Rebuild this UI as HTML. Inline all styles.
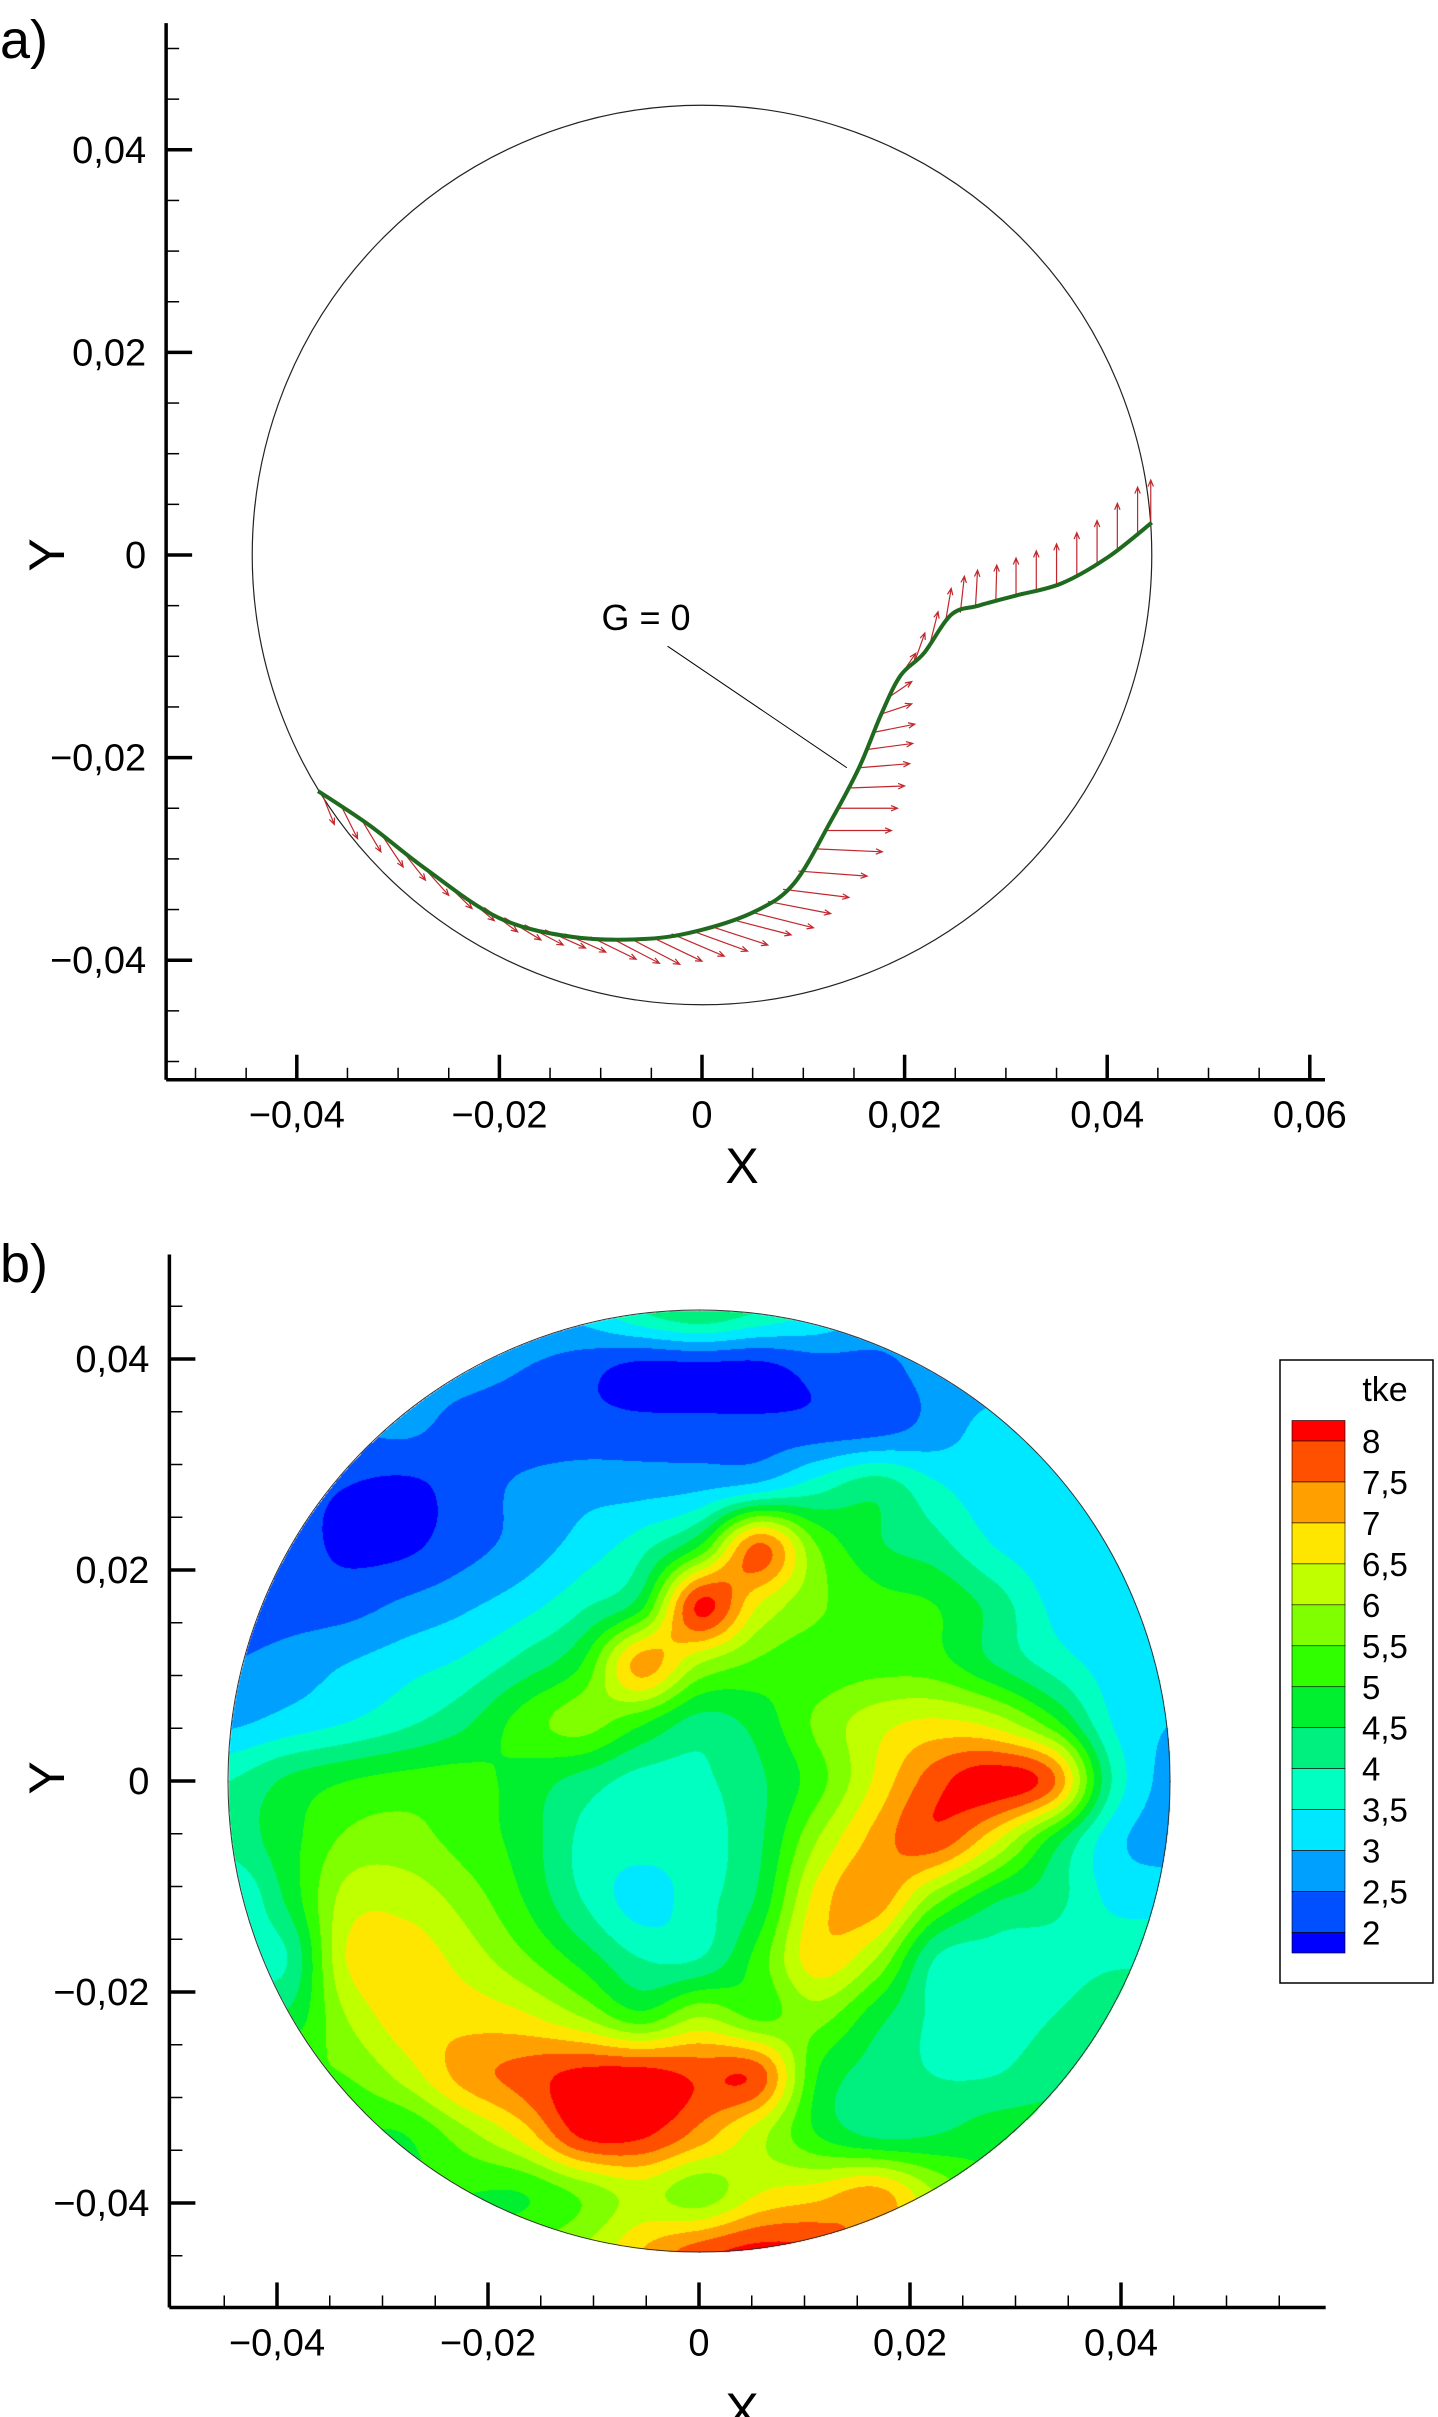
<!DOCTYPE html>
<html><head><meta charset="utf-8">
<style>
html,body{margin:0;padding:0;background:#fff;}
#wrap{position:relative;width:1438px;height:2417px;overflow:hidden;font-family:"Liberation Sans",Arial,sans-serif;}
svg{position:absolute;left:0;top:0;}
canvas{position:absolute;left:227px;top:1309px;}
</style></head>
<body>
<div id="wrap">
<canvas id="field" width="944" height="944"></canvas>
<svg id="svg" width="1438" height="2417" viewBox="0 0 1438 2417"></svg>
</div>
<script>
// ---------- Panel a data ----------
const curveX = [-0.0379,-0.0328,-0.0274,-0.0201,-0.0128,-0.0055,0.0000,0.0054,0.0091,0.0127,0.0155,0.0177,0.0196,0.0219,0.0246,0.0273,0.0310,0.0355,0.0401,0.0444];
const curveY = [-0.0233,-0.0267,-0.0309,-0.0358,-0.0377,-0.0379,-0.0370,-0.0351,-0.0324,-0.0263,-0.0210,-0.0157,-0.0119,-0.0097,-0.0059,-0.0050,-0.0040,-0.0028,-0.0002,0.0032];
const arrowX = [-0.0375,-0.0355,-0.0335,-0.0315,-0.0295,-0.0275,-0.0255,-0.0235,-0.0215,-0.0195,-0.0175,-0.0155,-0.0135,-0.0110,-0.0090,-0.0070,-0.0050,-0.0030,-0.0010,0.0010,0.0030,0.0050,0.0065,0.0080,0.0095,0.0110,0.0122,0.0133,0.0145,0.0155,0.0163,0.0170,0.0177,0.0185,0.0196,0.0210,0.0225,0.0240,0.0255,0.0270,0.0290,0.0310,0.0330,0.0350,0.0370,0.0390,0.0410,0.0430,0.0443];
const arrowY = [-0.0236,-0.0250,-0.0263,-0.0278,-0.0293,-0.0308,-0.0322,-0.0336,-0.0348,-0.0358,-0.0365,-0.0370,-0.0374,-0.0377,-0.0378,-0.0379,-0.0377,-0.0374,-0.0371,-0.0367,-0.0360,-0.0353,-0.0342,-0.0330,-0.0312,-0.0290,-0.0272,-0.0250,-0.0230,-0.0210,-0.0192,-0.0175,-0.0157,-0.0140,-0.0119,-0.0105,-0.0088,-0.0068,-0.0057,-0.0051,-0.0046,-0.0040,-0.0034,-0.0029,-0.0020,-0.0010,0.0005,0.0020,0.0032];
const arrowU = [0.0012,0.0015,0.0018,0.0020,0.0022,0.0025,0.0028,0.0030,0.0033,0.0036,0.0038,0.0040,0.0040,0.0045,0.0048,0.0048,0.0050,0.0052,0.0055,0.0055,0.0058,0.0060,0.0062,0.0065,0.0068,0.0068,0.0065,0.0060,0.0055,0.0050,0.0045,0.0040,0.0030,0.0022,0.0015,0.0010,0.0008,0.0006,0.0004,0.0002,0.0001,0,0,0,0,0,0,0,0];
const arrowV = [-0.0030,-0.0030,-0.0030,-0.0030,-0.0028,-0.0028,-0.0027,-0.0025,-0.0024,-0.0022,-0.0020,-0.0018,-0.0018,-0.0022,-0.0025,-0.0025,-0.0024,-0.0022,-0.0020,-0.0018,-0.0015,-0.0015,-0.0012,-0.0008,-0.0005,-0.0003,0,0,0.0002,0.0004,0.0006,0.0008,0.0010,0.0015,0.0022,0.0028,0.0032,0.0035,0.0036,0.0036,0.0036,0.0037,0.0038,0.0040,0.0042,0.0044,0.0046,0.0047,0.0042];
const aTickMajorX = [-0.04,-0.02,0,0.02,0.04,0.06];
const aTickLabelsX = ["\u22120,04","\u22120,02","0","0,02","0,04","0,06"];
const aTickMajorY = [0.04,0.02,0,-0.02,-0.04];
const aTickLabelsY = ["0,04","0,02","0","\u22120,02","\u22120,04"];
const aCircleR = [0.0444];

// ---------- Panel b data ----------
const bTickMajorX = [-0.04,-0.02,0,0.02,0.04];
const bTickLabelsX = ["\u22120,04","\u22120,02","0","0,02","0,04"];
const bTickMajorY = [0.04,0.02,0,-0.02,-0.04];
const bTickLabelsY = ["0,04","0,02","0","\u22120,02","\u22120,04"];
const legendLevels = ["8","7,5","7","6,5","6","5,5","5","4,5","4","3,5","3","2,5","2"];
const bandColors = ["#0000ff","#0050ff","#00a0ff","#00e8ff","#00ffc0","#00f080","#00f030","#30ff00","#80ff00","#c0ff00","#ffe600","#ffa000","#ff5000","#ff0000"];
// tke grid, 17x17 over the circle bounding box, row 0 = top
const tkeGrid = [
[3,3,3,3,3,3,3.2,4.0,4.5,4.0,3.5,3,3,3,3,3,3],
[2.7,2.7,2.7,2.7,2.7,2.5,2.2,1.8,1.8,1.8,2.2,2.3,2.7,2.7,2.7,2.7,2.7],
[2.5,2.5,2.5,2.6,2.3,2.2,2.2,2.2,2.2,2.2,2.2,2.3,2.7,3.2,3.2,3.2,3.2],
[2.2,2.2,2.0,1.9,2.2,2.6,2.8,2.8,2.9,3.2,3.8,4.3,3.6,3.2,3.1,3.0,3.0],
[2.2,2.2,1.9,1.9,2.3,2.7,3.2,3.8,5.0,7.6,5.5,4.6,4.2,3.5,3.2,3.2,3.2],
[2.3,2.3,2.3,2.6,2.9,3.3,3.9,4.8,8.1,6.5,5.6,5.2,5.0,4.3,3.4,3.2,3.5],
[2.5,2.7,3.0,3.3,3.6,4.2,5.0,7.2,6.0,5.4,5.2,5.3,5.2,4.5,3.8,3.3,3.3],
[2.9,3.2,3.5,3.9,4.4,5.2,5.7,5.1,4.3,4.7,5.6,6.3,6.6,6.3,5.2,3.5,3.0],
[4.0,4.6,5.0,5.2,5.2,4.8,4.3,3.8,3.9,4.4,5.3,6.6,7.8,8.3,7.6,4.0,2.8],
[4.2,4.8,5.6,5.7,5.3,4.8,3.9,3.7,3.8,4.4,6.0,7.2,7.8,6.6,4.8,3.2,2.8],
[3.4,4.6,6.2,6.3,5.8,5.0,4.0,3.3,3.8,4.6,6.7,7.3,5.7,4.6,4.2,3.4,3.3],
[4.0,4.0,6.5,6.8,6.3,5.6,4.8,4.0,4.0,5.2,6.8,6.0,4.0,3.8,3.8,3.9,3.9],
[4.6,4.6,6.0,6.8,6.8,6.6,6.0,5.2,6.0,5.4,5.7,4.7,3.9,3.8,4.0,4.3,4.3],
[5.5,5.5,5.5,6.2,7.2,7.7,8.2,8.3,7.9,7.8,5.0,4.3,4.0,4.0,4.3,4.3,4.3],
[5,5,5,5.0,5.8,6.7,8.1,8.1,7.3,6.2,5.0,4.4,4.5,4.8,4.8,4.8,4.8],
[5,5,5,5,5,5.0,5.6,6.2,5.7,6.5,6.8,7.2,6.0,5,5,5,5],
[5,5,5,5,5,5.5,6,7,7.8,8.2,8,7,6,5,5,5,5]
];

const NS = "http://www.w3.org/2000/svg";
const svg = document.getElementById('svg');
function mk(tag, attrs, parent){ const e=document.createElementNS(NS,tag); for(const k in attrs) e.setAttribute(k,attrs[k]); (parent||svg).appendChild(e); return e; }

const sxA = x => 702 + x*10130, syA = y => 555 - y*10130;
const sxB = x => 699 + x*10550, syB = y => 1781 - y*10550;

function axes(g, sx, sy, xmin, xmax, ymin, ymax, majX, labX, majY, labY, minorX, minorY){
  const x0 = sx(xmin), y0 = sy(ymin);
  let e = mk('line',{x1:x0,y1:y0,x2:sx(xmax),y2:y0,stroke:'#000','stroke-width':3.5},g);
   
  e = mk('line',{x1:x0,y1:y0,x2:x0,y2:sy(ymax),stroke:'#000','stroke-width':3.5},g);
   
  minorX.forEach(v=>{ const t=mk('line',{x1:sx(v),y1:y0,x2:sx(v),y2:y0-12,stroke:'#000','stroke-width':1.5},g);
      });
  minorY.forEach(v=>{ const t=mk('line',{x1:x0,y1:sy(v),x2:x0+13,y2:sy(v),stroke:'#000','stroke-width':1.5},g);
      });
  majX.forEach((v,i)=>{ const t=mk('line',{x1:sx(v),y1:y0,x2:sx(v),y2:y0-25,stroke:'#000','stroke-width':3.5},g);
     
    const l=mk('text',{x:sx(v),y:y0+48,'text-anchor':'middle','font-size':38},g); l.textContent=labX[i];
      });
  majY.forEach((v,i)=>{ const t=mk('line',{x1:x0,y1:sy(v),x2:x0+26,y2:sy(v),stroke:'#000','stroke-width':3.5},g);
     
    const l=mk('text',{x:x0-20,y:sy(v)+13,'text-anchor':'end','font-size':38},g); l.textContent=labY[i];
      });
}
function range(a,b,s){ const r=[]; for(let v=a; v<=b+1e-9; v+=s){ const q=Math.round(v*1000)/1000; if(Math.abs(Math.round(q/0.02)*0.02-q)>1e-6) r.push(q);} return r; }

// ---------- Panel a ----------
const gA = mk('g',{});  
axes(gA, sxA, syA, -0.0529, 0.0615, -0.0518, 0.0525, aTickMajorX, aTickLabelsX, aTickMajorY, aTickLabelsY,
     range(-0.05,0.06,0.005), range(-0.05,0.05,0.005));
let c = mk('circle',{cx:sxA(0),cy:syA(0),r:aCircleR[0]*10130,fill:'none',stroke:'#222','stroke-width':1.2},gA);
 
const gArr = mk('g',{stroke:'#c0282d','stroke-width':1.2,fill:'none'},gA);
 
for(let i=0;i<arrowX.length;i++){
  const x1=sxA(arrowX[i]), y1=syA(arrowY[i]), x2=sxA(arrowX[i]+arrowU[i]), y2=syA(arrowY[i]+arrowV[i]);
  const ang=Math.atan2(y2-y1,x2-x1), h=7;
  const p=mk('path',{d:`M${x1},${y1}L${x2},${y2}M${x2-h*Math.cos(ang-0.4)},${y2-h*Math.sin(ang-0.4)}L${x2},${y2}L${x2-h*Math.cos(ang+0.4)},${y2-h*Math.sin(ang+0.4)}`},gArr);
   
}
// smooth curve (Catmull-Rom through the data points)
let d='M'+sxA(curveX[0])+','+syA(curveY[0]);
for(let i=0;i<curveX.length-1;i++){
  const p0=[sxA(curveX[Math.max(0,i-1)]),syA(curveY[Math.max(0,i-1)])];
  const p1=[sxA(curveX[i]),syA(curveY[i])];
  const p2=[sxA(curveX[i+1]),syA(curveY[i+1])];
  const p3=[sxA(curveX[Math.min(curveX.length-1,i+2)]),syA(curveY[Math.min(curveX.length-1,i+2)])];
  d+=`C${p1[0]+(p2[0]-p0[0])/6},${p1[1]+(p2[1]-p0[1])/6} ${p2[0]-(p3[0]-p1[0])/6},${p2[1]-(p3[1]-p1[1])/6} ${p2[0]},${p2[1]}`;
}
let cv = mk('path',{d:d,fill:'none',stroke:'#1f6a1f','stroke-width':4,'stroke-linejoin':'round'},gA);
 
let ld = mk('line',{x1:sxA(-0.0034),y1:syA(-0.0090),x2:sxA(0.0143),y2:syA(-0.0210),stroke:'#000','stroke-width':1},gA);
 
let gl = mk('text',{x:646,y:630,'text-anchor':'middle','font-size':36},gA); gl.textContent='G = 0';
 
let ta = mk('text',{x:0,y:58,'font-size':54},gA); ta.textContent='a)';
 
let xa = mk('text',{x:742,y:1183,'text-anchor':'middle','font-size':50},gA); xa.textContent='X';
 
let ya = mk('text',{x:0,y:0,'text-anchor':'middle','font-size':50,transform:'translate(64,555) rotate(-90)'},gA); ya.textContent='Y';
 

// ---------- Panel b ----------
const gB = mk('g',{});  
axes(gB, sxB, syB, -0.0502, 0.0594, -0.0499, 0.0499, bTickMajorX, bTickLabelsX, bTickMajorY, bTickLabelsY,
     range(-0.045,0.055,0.005), range(-0.045,0.045,0.005));
let cb = mk('circle',{cx:sxB(0),cy:syB(0),r:471,fill:'none',stroke:'#333','stroke-width':1},gB);
 
let tb = mk('text',{x:0,y:1282,'font-size':54},gB); tb.textContent='b)';
 
let xb = mk('text',{x:742,y:2428,'text-anchor':'middle','font-size':50},gB); xb.textContent='X';
 
let yb = mk('text',{x:0,y:0,'text-anchor':'middle','font-size':50,transform:'translate(64,1778) rotate(-90)'},gB); yb.textContent='Y';
 

// legend
const gL = mk('g',{});  
let lb = mk('rect',{x:1280,y:1360,width:153,height:623,fill:'#fff',stroke:'#000','stroke-width':1.5},gL);
 
let lt = mk('text',{x:1385,y:1401,'text-anchor':'middle','font-size':34},gL); lt.textContent='tke';
 
const step=40.96, top8=1441;
for(let k=0;k<bandColors.length;k++){
  const col = bandColors[bandColors.length-1-k];
  let y1 = k===0 ? top8-20.5 : top8+(k-1)*step;
  let h = (k===0||k===bandColors.length-1) ? 20.5 : step;
  const r = mk('rect',{x:1292,y:y1,width:53,height:h,fill:col,stroke:'#000','stroke-width':0.6},gL);
   
}
legendLevels.forEach((s,i)=>{ const t=mk('text',{x:1362,y:top8+i*step+12,'font-size':33},gL); t.textContent=s;
    });

// field rendering (bicubic Catmull-Rom interpolation of the grid)
(function(){
  const cvs=document.getElementById('field'), ctx=cvs.getContext('2d');
  const W=944, R=471, C=472, N=tkeGrid.length-1;
  const img=ctx.createImageData(W,W);
  const rgb=bandColors.map(h=>[parseInt(h.substr(1,2),16),parseInt(h.substr(3,2),16),parseInt(h.substr(5,2),16)]);
  const G=(j,i)=>tkeGrid[Math.max(0,Math.min(N,j))][Math.max(0,Math.min(N,i))];
  const cr=(a,b,c2,d2,t)=>b+0.5*t*(c2-a+t*(2*a-5*b+4*c2-d2+t*(3*(b-c2)+d2-a)));
  for(let py=0;py<W;py++){
    for(let px=0;px<W;px++){
      const u=(px-C)/R, v=(py-C)/R;
      if(u*u+v*v>1) continue;
      const gx=(u+1)/2*N, gy=(v+1)/2*N;
      let i=Math.min(N-1,Math.max(0,Math.floor(gx))), j=Math.min(N-1,Math.max(0,Math.floor(gy)));
      const fx=gx-i, fy=gy-j;
      const rows=[];
      for(let k=-1;k<=2;k++) rows.push(cr(G(j+k,i-1),G(j+k,i),G(j+k,i+1),G(j+k,i+2),fx));
      const val=cr(rows[0],rows[1],rows[2],rows[3],fy);
      let b=Math.floor((val-2)/0.5)+1; b=Math.max(0,Math.min(bandColors.length-1,b));
      const o=(py*W+px)*4; img.data[o]=rgb[b][0]; img.data[o+1]=rgb[b][1]; img.data[o+2]=rgb[b][2]; img.data[o+3]=255;
    }
  }
  ctx.putImageData(img,0,0);
})();
</script>
</body></html>
